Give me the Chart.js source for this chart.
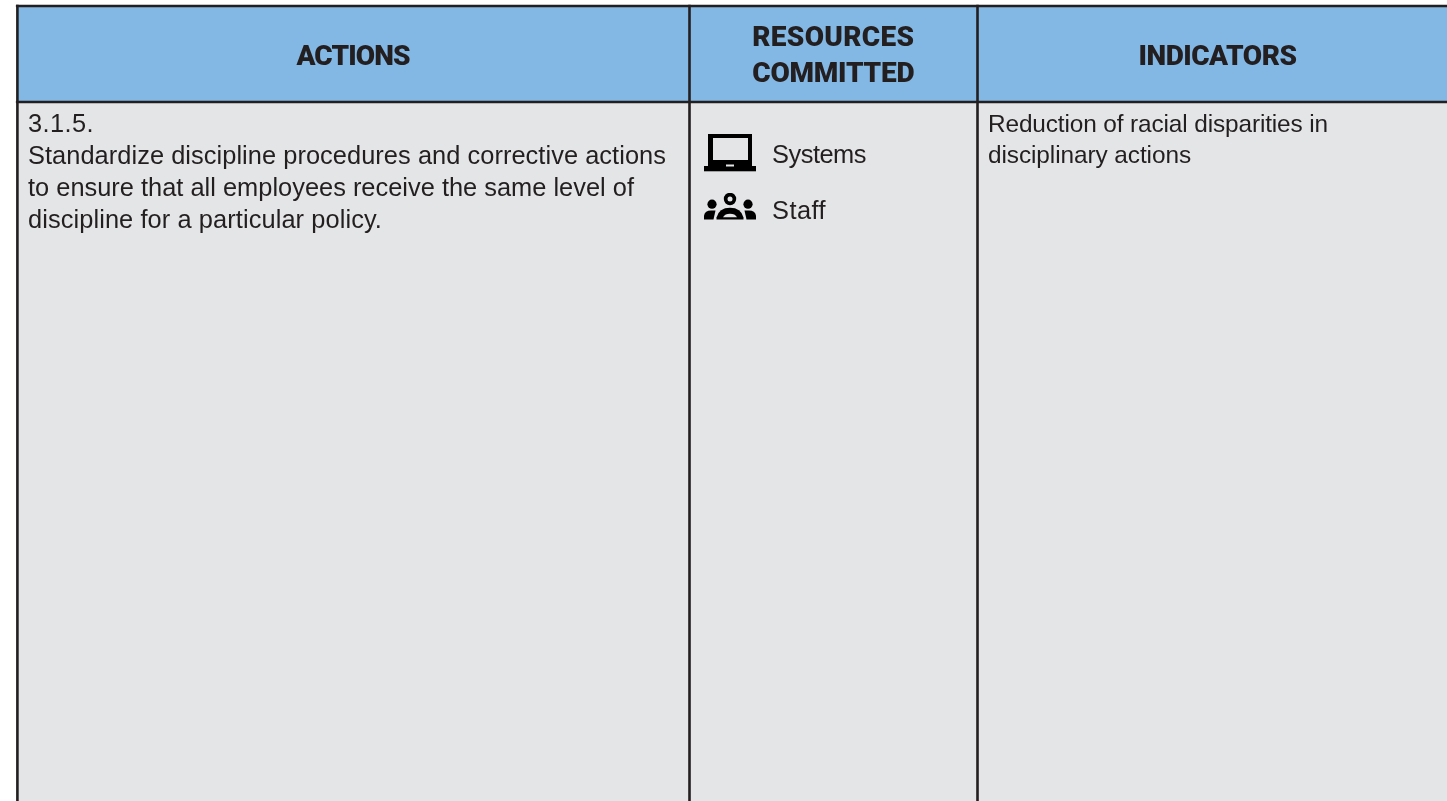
<!DOCTYPE html>
<html>
<head>
<meta charset="utf-8">
<style>
  html, body { margin: 0; padding: 0; background: #fff; overflow: hidden; }
  canvas { display: block; }
</style>
<script src="https://cdn.jsdelivr.net/npm/chart.js@4/dist/chart.umd.min.js"></script>
</head>
<body>
<canvas id="table-chart" width="1447" height="801"></canvas>
<script>
// table text
var headerLabels = [["ACTIONS"], ["RESOURCES", "COMMITTED"], ["INDICATORS"]];
var actionLines = ["3.1.5.", "Standardize discipline procedures and corrective actions", "to ensure that all employees receive the same level of", "discipline for a particular policy."];
var resourceNames = ["Systems", "Staff"];
var indicatorLines = ["Reduction of racial disparities in", "disciplinary actions"];

// grid edges
var columnEdges = [17.4, 689.5, 977.5, 1447];
var rowEdges = [6, 102, 801];

// icons
function makeIcon(w, h, paint) {
  var c = document.createElement("canvas");
  c.width = w; c.height = h;
  var g = c.getContext("2d");
  g.fillStyle = "#000";
  paint(g);
  return c;
}
var laptopIcon = makeIcon(52, 38, function (g) {
  g.fillRect(4, 0, 44, 33);
  g.fillRect(0, 32, 52, 5.3);
  g.clearRect(8.5, 4, 35, 21.5);
  g.fillStyle = "#e4e5e7";
  g.fillRect(22, 30.5, 8, 2);
});
var staffIcon = makeIcon(52, 28, function (g) {
  function dot(x, y, r) { g.beginPath(); g.arc(x, y, r, 0, Math.PI * 2); g.fill(); }
  dot(26, 6, 6.2);
  dot(8, 11.2, 4.6);
  dot(44, 11.2, 4.6);
  // middle person
  g.beginPath();
  g.moveTo(12.5, 26.4); g.lineTo(12.5, 24.5); g.quadraticCurveTo(15, 14.8, 26, 14.8); g.quadraticCurveTo(37, 14.8, 39.5, 24.5); g.lineTo(39.5, 26.4);
  g.closePath(); g.fill();
  // side people
  g.beginPath();
  g.moveTo(0, 26.4); g.lineTo(0, 22.5); g.quadraticCurveTo(1, 17.4, 7, 17.4); g.lineTo(11.5, 17.4); g.lineTo(9.5, 26.4);
  g.closePath(); g.fill();
  g.beginPath();
  g.moveTo(52, 26.4); g.lineTo(52, 22.5); g.quadraticCurveTo(51, 17.4, 45, 17.4); g.lineTo(40.5, 17.4); g.lineTo(42.5, 26.4);
  g.closePath(); g.fill();
  g.globalCompositeOperation = "destination-out";
  dot(26, 6, 2.5);
  g.beginPath();
  g.moveTo(19, 24.2); g.quadraticCurveTo(21, 20.8, 26, 20.8); g.quadraticCurveTo(31, 20.8, 33, 24.2);
  g.closePath(); g.fill();
});

var INK = "#231f20";
var BODY_FONT = "25.4px 'Liberation Sans'";
var HEAD_FONT = "900 28px Roboto";

var tableText = {
  id: "tableText",
  afterDatasetsDraw: function (chart) {
    var ctx = chart.ctx, sx = chart.scales.x, sy = chart.scales.y;
    // width: squeeze or spread the letters to the measured length of the line
    function put(str, x, y, width, align) {
      ctx.letterSpacing = "0px";
      var spare = width - ctx.measureText(str).width;
      ctx.letterSpacing = (spare / str.length) + "px";
      ctx.textAlign = align || "left";
      ctx.fillText(str, sx.getPixelForValue(x), sy.getPixelForValue(y));
    }
    ctx.save();
    ctx.fillStyle = INK;
    ctx.textBaseline = "alphabetic";

    ctx.font = HEAD_FONT;
    put(headerLabels[0][0], 353, 65, 113, "center");
    put(headerLabels[1][0], 833.3, 46, 162, "center");
    put(headerLabels[1][1], 833.3, 82, 162, "center");
    put(headerLabels[2][0], 1217.5, 65, 158, "center");

    ctx.font = BODY_FONT;
    var actionWidths = [66, 638, 606, 354];
    actionLines.forEach(function (t, i) { put(t, 28, [132, 164, 196, 228][i], actionWidths[i]); });
    var resourceWidths = [94, 54];
    resourceNames.forEach(function (t, i) { put(t, 772, [163, 219][i], resourceWidths[i]); });
    ctx.font = "24.4px 'Liberation Sans'";
    var indicatorWidths = [340, 203];
    indicatorLines.forEach(function (t, i) { put(t, 988, [132, 163][i], indicatorWidths[i]); });
    ctx.restore();
  }
};

function hLine(y) {
  return { data: [{ x: columnEdges[0] - 1.5, y: y }, { x: columnEdges[3], y: y }], borderColor: INK, borderWidth: 2.6, pointRadius: 0 };
}
function vLine(x) {
  return { data: [{ x: x, y: rowEdges[0] - 1.3 }, { x: x, y: rowEdges[2] }], borderColor: INK, borderWidth: 2.6, pointRadius: 0 };
}

var chartId = new Chart(document.getElementById("table-chart").getContext("2d"), {
  type: "line",
  data: {
    datasets: [
      // icons
      {
        data: [{ x: 730, y: 153 }],
        pointStyle: laptopIcon, showLine: false, order: 0
      },
      {
        data: [{ x: 730, y: 207 }],
        pointStyle: staffIcon, showLine: false, order: 0
      },
      // borders
      hLine(rowEdges[0]), hLine(rowEdges[1]),
      vLine(columnEdges[0]), vLine(columnEdges[1]), vLine(columnEdges[2]),
      // header row and body row
      {
        data: [{ x: columnEdges[0], y: rowEdges[0] }, { x: columnEdges[3], y: rowEdges[0] }],
        fill: { value: rowEdges[1] }, backgroundColor: "#83b8e5", borderWidth: 0, pointRadius: 0, order: 5
      },
      {
        data: [{ x: columnEdges[0], y: rowEdges[1] }, { x: columnEdges[3], y: rowEdges[1] }],
        fill: { value: rowEdges[2] }, backgroundColor: "#e4e5e7", borderWidth: 0, pointRadius: 0, order: 5
      }
    ]
  },
  options: {
    responsive: false,
    animation: false,
    layout: { padding: 0, autoPadding: false },
    plugins: { legend: { display: false }, tooltip: { enabled: false }, filler: { drawTime: "beforeDatasetsDraw" } },
    scales: {
      x: { type: "linear", min: 0, max: 1447, display: false },
      y: { type: "linear", min: 0, max: 801, reverse: true, display: false }
    }
  },
  plugins: [tableText]
});
</script>
</body>
</html>
